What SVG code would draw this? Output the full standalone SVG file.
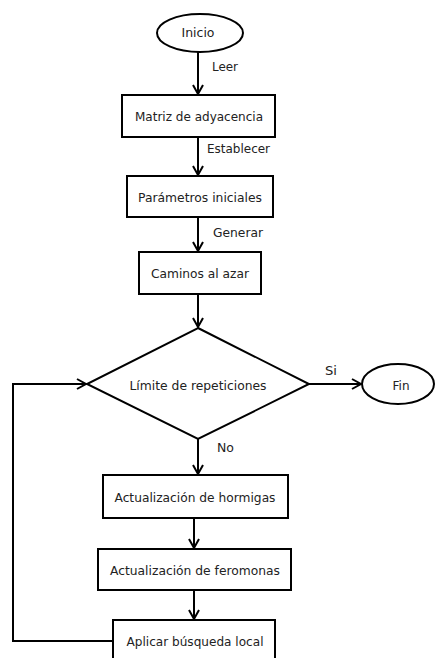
<svg xmlns="http://www.w3.org/2000/svg" width="435" height="658" viewBox="0 0 435 658">
<style>
.n{fill:#fff;stroke:#000;stroke-width:2}
.t{font-family:"DejaVu Sans",sans-serif;font-size:12px;fill:#222;text-anchor:middle}
.l{font-family:"DejaVu Sans",sans-serif;font-size:12px;fill:#222}
.c{fill:none;stroke:#000;stroke-width:2}
</style>
<defs>
<marker id="a" markerUnits="userSpaceOnUse" markerWidth="14" markerHeight="14" refX="10" refY="6" orient="auto">
<path d="M1,1 L10,6 L1,11" fill="none" stroke="#000" stroke-width="2"/>
</marker>
</defs>
<rect width="435" height="658" fill="#fff"/>
<g id="connectors">
<line class="c" x1="198" y1="52" x2="198" y2="94" marker-end="url(#a)"/>
<line class="c" x1="198" y1="137" x2="198" y2="175" marker-end="url(#a)"/>
<line class="c" x1="198" y1="217" x2="198" y2="251" marker-end="url(#a)"/>
<line class="c" x1="198" y1="294" x2="198" y2="327" marker-end="url(#a)"/>
<line class="c" x1="309" y1="384" x2="361" y2="384" marker-end="url(#a)"/>
<line class="c" x1="198" y1="439" x2="198" y2="474" marker-end="url(#a)"/>
<line class="c" x1="194" y1="518" x2="194" y2="548" marker-end="url(#a)"/>
<line class="c" x1="194" y1="590" x2="194" y2="619" marker-end="url(#a)"/>
<polyline class="c" points="113,641 13,641 13,384 86,384" marker-end="url(#a)"/>
<text class="l" x="212" y="71" textLength="26" lengthAdjust="spacingAndGlyphs">Leer</text>
<text class="l" x="207" y="153" textLength="63" lengthAdjust="spacingAndGlyphs">Establecer</text>
<text class="l" x="213" y="237" textLength="50" lengthAdjust="spacingAndGlyphs">Generar</text>
<text class="l" x="325" y="375" textLength="12" lengthAdjust="spacingAndGlyphs">Si</text>
<text class="l" x="217" y="452" textLength="17" lengthAdjust="spacingAndGlyphs">No</text>
</g>
<g id="inicio">
<ellipse class="n" cx="200" cy="33" rx="43" ry="19"/>
<text class="t" x="198" y="37" textLength="33" lengthAdjust="spacingAndGlyphs">Inicio</text>
</g>
<g id="matriz">
<rect class="n" x="122" y="95" width="153" height="42"/>
<text class="t" x="199" y="121" textLength="128" lengthAdjust="spacingAndGlyphs">Matriz de adyacencia</text>
</g>
<g id="parametros">
<rect class="n" x="127" y="176" width="146" height="41"/>
<text class="t" x="200" y="202" textLength="124" lengthAdjust="spacingAndGlyphs">Parámetros iniciales</text>
</g>
<g id="caminos">
<rect class="n" x="139" y="252" width="122" height="42"/>
<text class="t" x="200" y="278" textLength="98" lengthAdjust="spacingAndGlyphs">Caminos al azar</text>
</g>
<g id="limite">
<polygon class="n" points="198,328 309,384 198,439 87,384"/>
<text class="t" x="198" y="390" textLength="137" lengthAdjust="spacingAndGlyphs">Límite de repeticiones</text>
</g>
<g id="fin">
<ellipse class="n" cx="398" cy="384" rx="36" ry="20"/>
<text class="t" x="401" y="390" textLength="17" lengthAdjust="spacingAndGlyphs">Fin</text>
</g>
<g id="hormigas">
<rect class="n" x="103" y="475" width="185" height="43"/>
<text class="t" x="195" y="502" textLength="161" lengthAdjust="spacingAndGlyphs">Actualización de hormigas</text>
</g>
<g id="feromonas">
<rect class="n" x="98" y="549" width="193" height="41"/>
<text class="t" x="195" y="575" textLength="170" lengthAdjust="spacingAndGlyphs">Actualización de feromonas</text>
</g>
<g id="aplicar">
<rect class="n" x="113" y="620" width="162" height="44"/>
<text class="t" x="195" y="646" textLength="137" lengthAdjust="spacingAndGlyphs">Aplicar búsqueda local</text>
</g>
</svg>
